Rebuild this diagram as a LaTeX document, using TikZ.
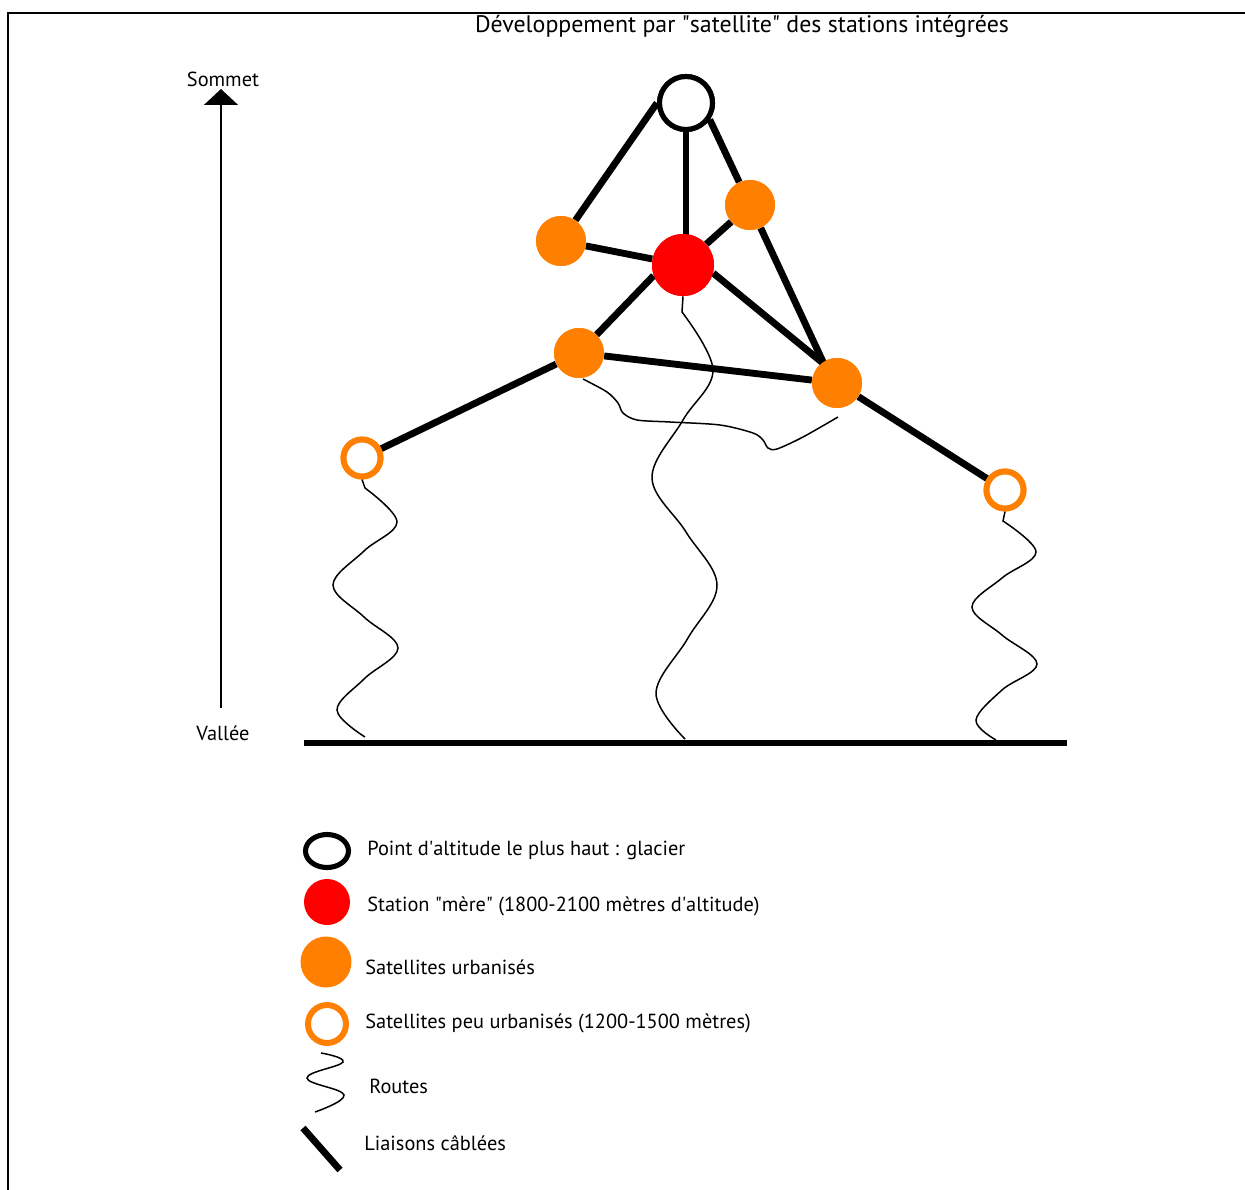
\documentclass[tikz,border=0pt]{standalone}
\usepackage{fontspec}
\setmainfont{PT Sans}
\usetikzlibrary{arrows.meta,shapes.geometric}
\definecolor{sat}{HTML}{FF8000}
\definecolor{mere}{HTML}{FF0000}
\begin{document}
\begin{tikzpicture}[x=0.02cm,y=-0.02cm,
  cable/.style={line width=3.9pt},
  route/.style={line width=0.85pt},
  glacier/.style={circle,draw=black,fill=white,line width=2.9pt,minimum size=1.06cm,inner sep=0pt},
  stationmere/.style={circle,fill=mere,minimum size=1.24cm,inner sep=0pt},
  satfull/.style={circle,fill=sat,minimum size=1cm,inner sep=0pt},
  satring/.style={circle,draw=sat,fill=white,line width=3.4pt,minimum size=0.74cm,inner sep=0pt},
  lbl/.style={font=\fontsize{11.6}{14}\selectfont,inner sep=0pt},
  leg/.style={lbl,anchor=base west}
]
\useasboundingbox (0,0) rectangle (1245,1190);
% frame
\draw[line width=1.2pt] (8,1190) -- (8,13) -- (1245,13);
% title
\node[font=\fontsize{13.6}{16}\selectfont,inner sep=0pt,anchor=base] (title) at (742,32) {Développement par \textquotedbl satellite\textquotedbl{} des stations intégrées};
% axis
\node[lbl,anchor=base] (sommet) at (223,86) {Sommet};
\node[lbl,anchor=base] (vallee) at (223,740) {Vallée};
\coordinate (axbot) at (221,708);
\coordinate (axtop) at (221,89);
\draw[line width=0.85pt,-{Triangle[width=0.68cm,length=0.32cm]}] (axbot) -- (axtop);
% ground
\coordinate (g1) at (304,743);
\coordinate (g2) at (1067,743);
\draw[line width=3.8pt] (g1) -- (g2);
% nodes
\node[glacier] (G) at (686,103) {};
\node[stationmere] (M) at (683,265) {};
\node[satfull] (A) at (561,241) {};
\node[satfull] (B) at (750,205) {};
\node[satfull] (C) at (579,353) {};
\node[satfull] (D) at (837,383) {};
\node[satring] (L) at (362,458) {};
\node[satring] (R) at (1005,490) {};
\coordinate (Dtop) at (824,364);
% cables
\draw[cable] (A) -- (G.west);
\draw[cable] (G.south) -- (G.south |- M.center);
\draw[cable] (B) -- (G.-35);
\draw[cable] (B) -- (Dtop);
\draw[cable] (A) -- (M);
\draw[cable] (M) -- (B);
\draw[cable] (C) -- (M.200);
\draw[cable] (M.-15) -- (Dtop);
\draw[cable] (C) -- (D);
\draw[cable] (C) -- (L);
\draw[cable] (D) -- (R);
% routes
\draw[route] (L.south) -- plot[smooth,tension=0.6] coordinates {(365,488) (397,522) (364,551) (333,585) (364,617) (398,648) (364,679) (337,710) (365,737)};
\draw[route] (M.south) -- plot[smooth,tension=0.6] coordinates {(682,312) (713,370) (683,420) (652,478) (686,532) (717,585) (688,638) (656,693) (685,739)};
\draw[route] plot[smooth,tension=0.5] coordinates {(583,379) (607,392) (618,403) (623,413) (637,420) (670,422) (720,425) (753,433) (763,440) (768,448) (777,449) (803,437) (838,417)};
\draw[route] (R.south) -- plot[smooth,tension=0.6] coordinates {(1003,521) (1036,552) (1002,578) (972,607) (1002,635) (1037,664) (1002,690) (976,720) (996,740)};
% redraw nodes on top
\node[glacier] at (G) {};
\node[stationmere] at (M) {};
\node[satfull] at (A) {};
\node[satfull] at (B) {};
\node[satfull] at (C) {};
\node[satfull] at (D) {};
\node[satring] at (L) {};
\node[satring] at (R) {};
% legend
\node[ellipse,draw=black,line width=2.9pt,minimum width=0.86cm,minimum height=0.66cm,inner sep=0pt] (kG) at (327,851) {};
\node[stationmere,minimum size=0.92cm] (kM) at (327,902) {};
\node[satfull,minimum size=1.02cm] (kS) at (326,962) {};
\node[satring,minimum size=0.76cm] (kR) at (327,1024) {};
\draw[route] plot[smooth,tension=0.7] coordinates {(321,1053) (343,1062) (307,1078) (344,1095) (315,1112)};
\coordinate (kc1) at (303,1128);
\coordinate (kc2) at (340,1170);
\draw[cable] (kc1) -- (kc2);
\node[leg] (t1) at (367,855) {Point d\textquotesingle altitude le plus haut : glacier};
\node[leg] (t2) at (367,911) {Station \textquotedbl mère\textquotedbl{} (1800-2100 mètres d\textquotesingle altitude)};
\node[leg] (t3) at (365,974) {Satellites urbanisés};
\node[leg] (t4) at (365,1028) {Satellites peu urbanisés (1200-1500 mètres)};
\node[leg] (t5) at (369,1093) {Routes};
\node[leg] (t6) at (364,1150) {Liaisons câblées};
\end{tikzpicture}
\end{document}
